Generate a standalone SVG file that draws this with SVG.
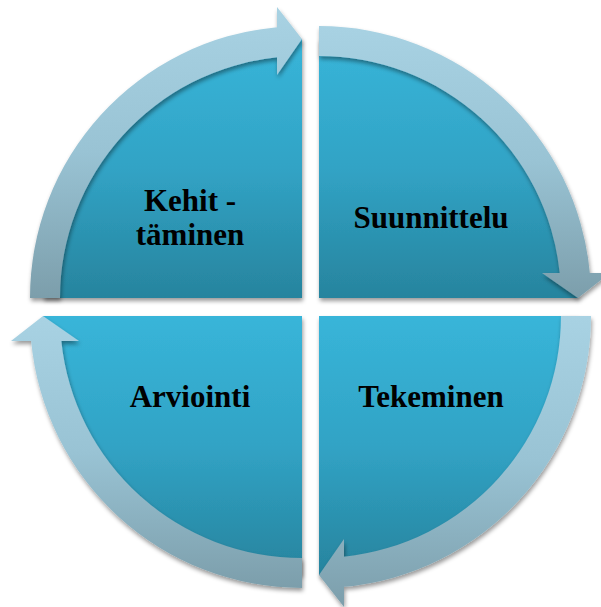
<svg xmlns="http://www.w3.org/2000/svg" width="601" height="607" viewBox="0 0 601 607">
  <defs>
    <linearGradient id="sliceGrad" x1="0" y1="0" x2="0" y2="1">
      <stop offset="0" stop-color="#38b5d9"/>
      <stop offset="0.5" stop-color="#31a3c5"/>
      <stop offset="1" stop-color="#27849e"/>
    </linearGradient>
    <linearGradient id="arrowGrad" x1="0" y1="0" x2="0" y2="1">
      <stop offset="0" stop-color="#a8d2e3"/>
      <stop offset="0.5" stop-color="#99c3d4"/>
      <stop offset="1" stop-color="#7c9eab"/>
    </linearGradient>
    <filter id="shadow" x="-10%" y="-10%" width="120%" height="120%">
      <feDropShadow dx="1" dy="3" stdDeviation="2" flood-color="#000" flood-opacity="0.4"/>
    </filter>
  </defs>
  <style>
    .slice { fill: url(#sliceGrad); filter: url(#shadow); }
    .arrow { fill: url(#arrowGrad); filter: url(#shadow); }
    .label { font-family: "Liberation Serif", "Times New Roman", serif; font-weight: bold; font-size: 31px; fill: #000; text-anchor: middle; }
  </style>

  <g id="node-kehittaminen">
    <path class="slice" d="M 302 298 L 43 298 A 259 259 0 0 1 302 39 Z"/>
    <text class="label" x="190" y="211">Kehit -</text>
    <text class="label" x="190" y="245">täminen</text>
  </g>
  <g id="node-suunnittelu">
    <path class="slice" d="M 319 298 L 319 39 A 259 259 0 0 1 578 298 Z"/>
    <text class="label" x="431" y="228">Suunnittelu</text>
  </g>
  <g id="node-tekeminen">
    <path class="slice" d="M 319 316 L 578 316 A 259 259 0 0 1 319 575 Z"/>
    <text class="label" x="431" y="407">Tekeminen</text>
  </g>
  <g id="node-arviointi">
    <path class="slice" d="M 302 316 L 302 575 A 259 259 0 0 1 43 316 Z"/>
    <text class="label" x="190" y="407">Arviointi</text>
  </g>

  <g id="connectors">
    <path class="arrow" d="M 30 298 A 272 272 0 0 1 277 27.15 L 277 7 L 302 39 L 277 75 L 277 57.29 A 242 242 0 0 0 60 298 Z"/>
    <path class="arrow" d="M 319 26 A 272 272 0 0 1 589.85 273 L 610 273 L 578 298 L 542 273 L 559.71 273 A 242 242 0 0 0 319 56 Z"/>
    <path class="arrow" d="M 591 316 A 272 272 0 0 1 344 586.85 L 344 607 L 319 575 L 344 539 L 344 556.71 A 242 242 0 0 0 561 316 Z"/>
    <path class="arrow" d="M 302 588 A 272 272 0 0 1 31.15 341 L 11 341 L 43 316 L 79 341 L 61.29 341 A 242 242 0 0 0 302 558 Z"/>
  </g>
</svg>
